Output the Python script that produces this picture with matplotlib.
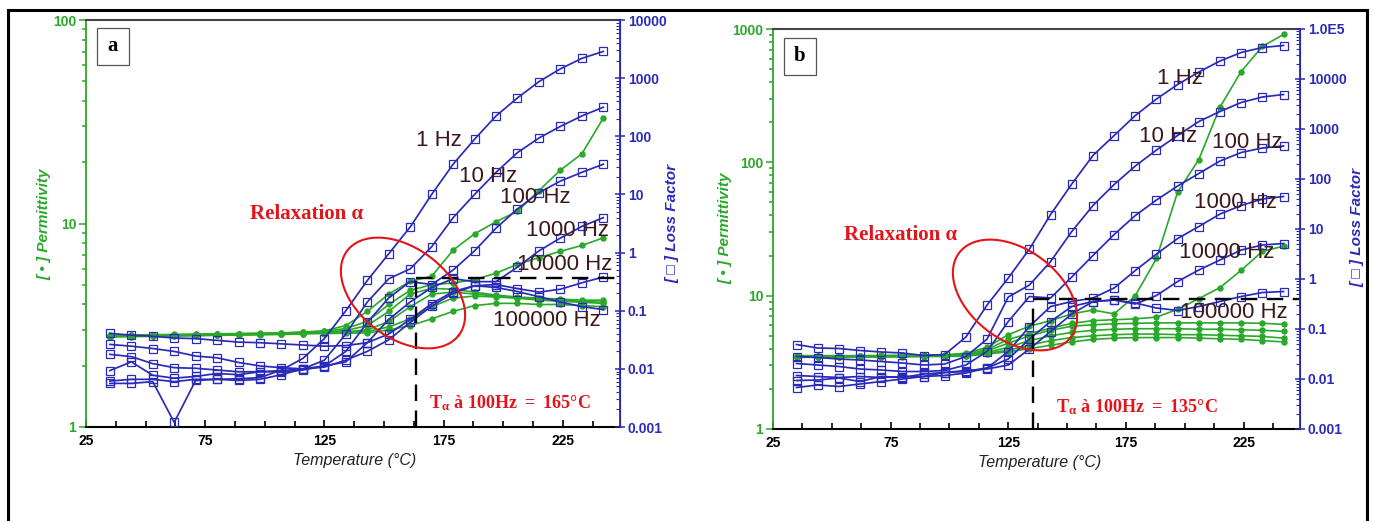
import matplotlib.pyplot as plt
import numpy as np
from matplotlib.patches import Rectangle
from matplotlib.lines import Line2D
from matplotlib.ticker import FuncFormatter, MultipleLocator, LogLocator, NullFormatter

plt.rcParams['mathtext.fontset'] = 'custom'
plt.rcParams['mathtext.rm'] = 'Liberation Serif:bold'
plt.rcParams['mathtext.it'] = 'Liberation Serif:bold'

# temperature grid of the marked points (deg C)
temps = [35, 44, 53, 62, 71, 80, 89, 98, 107, 116, 125, 134,
         143, 152, 161, 170, 179, 188, 197, 206, 215, 224, 233, 242]
freqs = ['1 Hz', '10 Hz', '100 Hz', '1000 Hz', '10000 Hz', '100000 Hz']

# ---- panel a : loss factor (log10) ----
a_loss_1 = [-2.25, -2.25, -2.22, -2.92, -2.20, -2.18, -2.17, -2.15, -2.02, -1.82, -1.48, -1.00,
            -0.48, -0.02, 0.44, 1.00, 1.52, 1.95, 2.35, 2.66, 2.94, 3.16, 3.34, 3.46]
a_loss_10 = [-2.21, -2.18, -2.18, -2.22, -2.18, -2.18, -2.20, -2.18, -2.10, -2.00, -1.85, -1.40,
             -0.85, -0.45, -0.28, 0.10, 0.60, 1.00, 1.38, 1.72, 1.97, 2.17, 2.35, 2.50]
a_loss_100 = [-2.03, -1.88, -2.11, -2.16, -2.13, -2.08, -2.10, -2.05, -2.05, -2.02, -1.95, -1.70,
              -1.20, -0.78, -0.50, -0.55, -0.30, 0.03, 0.42, 0.75, 1.03, 1.23, 1.38, 1.52]
a_loss_1000 = [-1.75, -1.79, -1.91, -1.98, -1.99, -2.02, -2.05, -2.05, -2.03, -2.00, -1.95, -1.88,
               -1.55, -1.15, -0.85, -0.60, -0.45, -0.50, -0.50, -0.25, 0.03, 0.25, 0.45, 0.60]
a_loss_10000 = [-1.58, -1.61, -1.65, -1.70, -1.78, -1.81, -1.89, -1.95, -1.98, -2.00, -1.97, -1.85,
                -1.70, -1.50, -1.20, -0.92, -0.70, -0.57, -0.55, -0.62, -0.68, -0.63, -0.52, -0.42]
a_loss_100000 = [-1.39, -1.42, -1.44, -1.47, -1.48, -1.51, -1.54, -1.55, -1.57, -1.59, -1.61, -1.60,
                 -1.55, -1.40, -1.15, -0.88, -0.67, -0.57, -0.60, -0.67, -0.76, -0.85, -0.93, -0.98]

# ---- panel a : permittivity ----
a_eps_1 = [2.82, 2.83, 2.84, 2.85, 2.86, 2.87, 2.88, 2.89, 2.90, 2.93, 2.97, 3.15,
           3.7, 4.5, 5.2, 5.5, 7.4, 8.9, 10.2, 11.5, 14.5, 18.3, 22.0, 33.0]
a_eps_10 = [2.81, 2.82, 2.83, 2.84, 2.85, 2.86, 2.87, 2.88, 2.89, 2.92, 2.95, 3.05,
            3.3, 4.0, 4.7, 5.0, 5.1, 5.3, 5.7, 6.3, 6.8, 7.3, 7.8, 8.5]
a_eps_100 = [2.80, 2.81, 2.82, 2.83, 2.84, 2.85, 2.86, 2.87, 2.88, 2.90, 2.93, 2.98,
             3.15, 3.7, 4.5, 4.8, 4.75, 4.6, 4.45, 4.35, 4.3, 4.25, 4.2, 4.2]
a_eps_1000 = [2.79, 2.80, 2.81, 2.82, 2.83, 2.84, 2.85, 2.86, 2.87, 2.89, 2.91, 2.94,
              3.0, 3.3, 3.9, 4.5, 4.6, 4.5, 4.4, 4.3, 4.25, 4.2, 4.15, 4.1]
a_eps_10000 = [2.78, 2.79, 2.80, 2.81, 2.82, 2.83, 2.84, 2.85, 2.86, 2.88, 2.90, 2.92,
               2.95, 3.1, 3.4, 3.9, 4.3, 4.4, 4.35, 4.3, 4.2, 4.15, 4.1, 4.05]
a_eps_100000 = [2.77, 2.78, 2.79, 2.80, 2.81, 2.82, 2.83, 2.84, 2.85, 2.87, 2.88, 2.89,
                2.9, 3.0, 3.15, 3.4, 3.7, 3.95, 4.05, 4.05, 4.0, 4.0, 3.95, 3.9]

# ---- panel b : loss factor (log10) ----
b_loss_1 = [-1.31, -1.38, -1.39, -1.43, -1.46, -1.48, -1.53, -1.51, -1.16, -0.52, 0.02, 0.60,
            1.29, 1.90, 2.47, 2.87, 3.27, 3.60, 3.89, 4.14, 4.36, 4.53, 4.63, 4.67]
b_loss_10 = [-1.55, -1.57, -1.60, -1.62, -1.65, -1.68, -1.72, -1.70, -1.55, -1.20, -0.36, -0.12,
             0.35, 0.95, 1.47, 1.89, 2.26, 2.58, 2.87, 3.15, 3.35, 3.53, 3.64, 3.69]
b_loss_100 = [-1.69, -1.72, -1.75, -1.80, -1.82, -1.85, -1.85, -1.83, -1.72, -1.45, -0.85, -0.35,
              -0.38, 0.04, 0.47, 0.89, 1.27, 1.58, 1.86, 2.11, 2.36, 2.53, 2.62, 2.66]
b_loss_1000 = [-1.93, -1.95, -1.97, -1.95, -1.97, -1.95, -1.95, -1.93, -1.88, -1.78, -1.45, -0.95,
               -0.55, -0.45, -0.38, -0.18, 0.17, 0.50, 0.81, 1.05, 1.30, 1.47, 1.60, 1.65]
b_loss_10000 = [-2.03, -2.02, -1.98, -2.05, -1.95, -1.97, -1.90, -1.87, -1.85, -1.78, -1.60, -1.20,
                -0.85, -0.55, -0.45, -0.42, -0.50, -0.33, -0.05, 0.18, 0.38, 0.58, 0.68, 0.71]
b_loss_100000 = [-2.17, -2.12, -2.15, -2.10, -2.05, -2.00, -1.95, -1.87, -1.83, -1.80, -1.72, -1.40,
                 -1.05, -0.70, -0.45, -0.42, -0.48, -0.58, -0.63, -0.55, -0.45, -0.35, -0.27, -0.25]

# ---- panel b : permittivity ----
b_eps_1 = [3.55, 3.55, 3.55, 3.55, 3.56, 3.57, 3.58, 3.60, 3.70, 4.10, 5.10, 5.90,
           6.5, 7.3, 7.8, 7.3, 10.0, 19.0, 60.0, 105.0, 260.0, 480.0, 740.0, 910.0]
b_eps_10 = [3.52, 3.52, 3.53, 3.53, 3.54, 3.55, 3.56, 3.58, 3.65, 3.95, 4.70, 5.20,
            5.7, 6.2, 6.5, 6.6, 6.7, 6.9, 7.9, 9.5, 11.5, 15.5, 21.5, 23.5]
b_eps_100 = [3.50, 3.50, 3.50, 3.50, 3.51, 3.52, 3.53, 3.55, 3.60, 3.85, 4.40, 5.00,
             5.5, 5.9, 6.05, 6.15, 6.2, 6.25, 6.25, 6.25, 6.25, 6.25, 6.2, 6.1]
b_eps_1000 = [3.48, 3.48, 3.49, 3.49, 3.50, 3.51, 3.52, 3.54, 3.58, 3.75, 4.10, 4.60,
              5.0, 5.3, 5.5, 5.6, 5.65, 5.65, 5.65, 5.6, 5.6, 5.55, 5.5, 5.4]
b_eps_10000 = [3.47, 3.47, 3.48, 3.48, 3.49, 3.50, 3.51, 3.53, 3.55, 3.70, 3.90, 4.25,
               4.6, 4.85, 5.0, 5.1, 5.15, 5.15, 5.1, 5.1, 5.05, 5.0, 4.95, 4.8]
b_eps_100000 = [3.45, 3.45, 3.46, 3.46, 3.47, 3.48, 3.49, 3.50, 3.52, 3.65, 3.80, 4.00,
                4.25, 4.5, 4.7, 4.8, 4.85, 4.85, 4.85, 4.8, 4.75, 4.7, 4.6, 4.5]

GREEN = '#2aa82a'
BLUE = '#2a2ab8'
RED = '#e4141b'
BROWN = '#3d1818'
W, H = 1373, 521


def px(x, y):
    return x / W, 1 - y / H


fig = plt.figure(figsize=(13.73, 5.21), dpi=100)

panels = [
    dict(rect=[86, 20, 620, 427], eps=[a_eps_1, a_eps_10, a_eps_100, a_eps_1000, a_eps_10000, a_eps_100000],
         loss=[a_loss_1, a_loss_10, a_loss_100, a_loss_1000, a_loss_10000, a_loss_100000],
         eps_lim=(1, 100), loss_lim=(1e-3, 1e4), t_alpha=163.5, loss_alpha=0.36, t_text='165°C',
         letter='a', box=(97, 28), flabels=[(439, 140), (488, 176), (535, 197), (568, 230), (565, 264), (547, 320)],
         relax=(307, 214), talpha_pos=(510, 403), ell=(403, 293),
         ylab=(44, 224), rlab=(672, 224), xlab=(355, 460)),
    dict(rect=[773, 29, 1300, 429], eps=[b_eps_1, b_eps_10, b_eps_100, b_eps_1000, b_eps_10000, b_eps_100000],
         loss=[b_loss_1, b_loss_10, b_loss_100, b_loss_1000, b_loss_10000, b_loss_100000],
         eps_lim=(1, 1000), loss_lim=(1e-3, 1e5), t_alpha=135.5, loss_alpha=0.40, t_text='135°C',
         letter='b', box=(784, 38), flabels=[(1180, 79), (1168, 137), (1247, 142), (1235, 203), (1227, 252), (1234, 313)],
         relax=(901, 235), talpha_pos=(1137, 407), ell=(1015, 295),
         ylab=(725, 228), rlab=(1357, 228), xlab=(1040, 462)),
]


def loss_fmt(v, pos):
    if v >= 1e5:
        return '1.0E5'
    if v >= 1:
        return '%d' % round(v)
    return ('%.3f' % v).rstrip('0')


for p in panels:
    x0, y0, x1, y1 = p['rect']
    ax = fig.add_axes([x0 / W, 1 - y1 / H, (x1 - x0) / W, (y1 - y0) / H])
    ax2 = ax.twinx()

    for e in p['eps']:
        ax.plot(temps, e, color=GREEN, lw=1.2, marker='o', ms=3.6, mfc=GREEN, mec=GREEN)
    for l in p['loss']:
        ax2.plot(temps, 10 ** np.array(l), color=BLUE, lw=1.25, marker='s', ms=5.2,
                 mfc='none', mec=BLUE, mew=0.9)

    ax.set_yscale('log')
    ax2.set_yscale('log')
    ax.set_ylim(*p['eps_lim'])
    ax2.set_ylim(*p['loss_lim'])
    ax.set_xlim(25, 249)
    ax.set_xticks([25, 75, 125, 175, 225])
    ax.xaxis.set_minor_locator(MultipleLocator(12.5))

    # dashed marker of T alpha
    ax2.plot([p['t_alpha'], p['t_alpha']], [p['loss_lim'][0], p['loss_alpha']],
             color='black', lw=1.7, dashes=(7, 4))
    ax2.plot([p['t_alpha'], 249], [p['loss_alpha'], p['loss_alpha']],
             color='black', lw=1.7, dashes=(7, 4))

    ax.spines['left'].set_color(GREEN)
    ax.spines['left'].set_linewidth(1.3)
    ax.spines['bottom'].set_linewidth(1.5)
    ax.spines['top'].set_color('#444444')
    ax.spines['top'].set_linewidth(1.5)
    ax2.spines['right'].set_color(BLUE)
    ax2.spines['right'].set_linewidth(1.3)
    for s in ['left', 'top', 'bottom']:
        ax2.spines[s].set_visible(False)

    ax.tick_params(axis='x', which='both', direction='in', labelsize=10, width=1.2, pad=5)
    ax.tick_params(axis='x', which='major', length=5)
    ax.tick_params(axis='x', which='minor', length=4)
    ax.tick_params(axis='y', which='both', direction='out', colors=GREEN, width=1.1, labelsize=10, pad=2)
    ax.tick_params(axis='y', which='major', length=5)
    ax.tick_params(axis='y', which='minor', length=3)
    ax.yaxis.set_major_formatter(FuncFormatter(lambda v, pos: '%d' % round(v)))
    ax.yaxis.set_minor_formatter(NullFormatter())
    ax2.tick_params(axis='y', which='major', direction='inout', colors=BLUE, length=7, width=1.1,
                    labelsize=10, pad=2)
    ax2.tick_params(axis='y', which='minor', direction='in', colors=BLUE, length=3, width=0.8)
    ax2.yaxis.set_major_locator(LogLocator(base=10, numticks=20))
    ax2.yaxis.set_minor_locator(LogLocator(base=10, subs=np.arange(2, 10), numticks=100))
    ax2.yaxis.set_major_formatter(FuncFormatter(loss_fmt))
    ax2.yaxis.set_minor_formatter(NullFormatter())
    for lab in ax.get_xticklabels() + ax.get_yticklabels() + ax2.get_yticklabels():
        lab.set_fontweight('bold')
        lab.set_family(['Liberation Sans', 'DejaVu Sans'])
    ax.set_facecolor('none')

    # frequency labels
    for name, pos in zip(freqs, p['flabels']):
        fig.text(*px(*pos), name, ha='center', va='center', fontsize=16, color=BROWN,
                 family='Liberation Sans')

    # annotations
    fig.text(*px(*p['relax']), 'Relaxation α', ha='center', va='center', fontsize=15,
             color=RED, family='Liberation Serif', fontweight='bold')
    fig.text(*px(*p['talpha_pos']), r'$\mathrm{T_{α}\ à\ 100Hz\ =\ ' + p['t_text'] + '}$',
             ha='center', va='center', fontsize=13, color=RED)

    # red ellipse around the relaxation
    t = np.linspace(0, 2 * np.pi, 200)
    th = np.deg2rad(37)
    cx, cy = p['ell']
    ex = cx + 70 * np.cos(t) * np.cos(th) - 45 * np.sin(t) * np.sin(th)
    ey = cy + 70 * np.cos(t) * np.sin(th) + 45 * np.sin(t) * np.cos(th)
    fig.add_artist(Line2D(ex / W, 1 - ey / H, color=RED, lw=1.5, transform=fig.transFigure))

    # panel letter box
    bx, by = p['box']
    fig.add_artist(Rectangle((bx / W, 1 - (by + 37) / H), 32 / W, 37 / H, fill=True, facecolor='white',
                             edgecolor='#555555', lw=0.9, transform=fig.transFigure))
    fig.text(*px(bx + 16, by + 18), p['letter'], ha='center', va='center', fontsize=15,
             fontweight='bold', family='Liberation Serif', color='black')

    # axis labels
    fig.text(*px(*p['ylab']), '[ • ] Permittivity', rotation=90, ha='center', va='center',
             fontsize=11, style='italic', fontweight='bold', color=GREEN, family=['Liberation Sans', 'DejaVu Sans'])
    fig.text(*px(*p['rlab']), '[ □ ] Loss Factor', rotation=90, ha='center', va='center',
             fontsize=11, style='italic', fontweight='bold', color=BLUE, family=['Liberation Sans', 'DejaVu Sans'])
    fig.text(*px(*p['xlab']), 'Temperature (°C)', ha='center', va='center', fontsize=11.5,
             style='italic', color='#222222', family=['Liberation Sans', 'DejaVu Sans'])

# outer frame (bottom edge lies below the picture)
fig.add_artist(Rectangle((8 / W, -0.05), (1367 - 8) / W, 1.05 - 10 / H, fill=False,
                         edgecolor='black', lw=2.2, transform=fig.transFigure))

fig.savefig('out.png', dpi=100)
